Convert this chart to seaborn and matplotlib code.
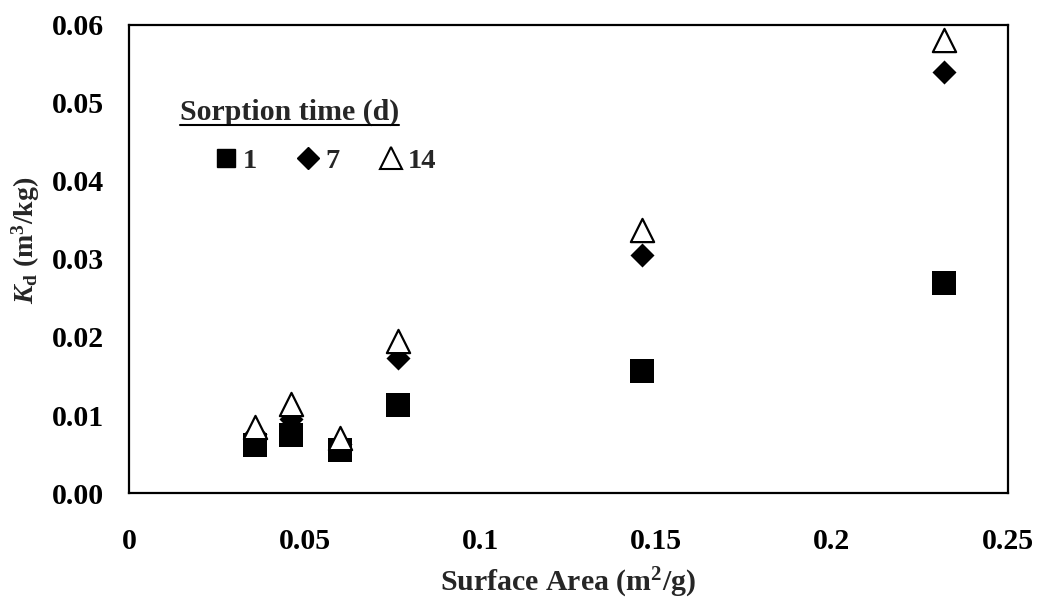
import matplotlib
matplotlib.use("Agg")
import matplotlib.pyplot as plt
import seaborn as sns
from matplotlib.lines import Line2D

# ---- data ----
surface_area = [0.0358, 0.0461, 0.0600, 0.0765, 0.1460, 0.2320]
kd_day1 = [0.0062, 0.0074, 0.0055, 0.0113, 0.0156, 0.0269]
kd_day7 = [0.0076, 0.0095, 0.0063, 0.0173, 0.0305, 0.0540]
kd_day14 = [0.0085, 0.0114, 0.0070, 0.0195, 0.0337, 0.0580]
legend_labels = ["1", "7", "14"]
x_ticks = [0, 0.05, 0.10, 0.15, 0.20, 0.25]
x_tick_labels = ["0", "0.05", "0.1", "0.15", "0.2", "0.25"]
y_ticks = [0.00, 0.01, 0.02, 0.03, 0.04, 0.05, 0.06]
y_tick_labels = ["0.00", "0.01", "0.02", "0.03", "0.04", "0.05", "0.06"]

sns.set_style("white")
plt.rcParams["font.family"] = ["Liberation Serif", "DejaVu Serif"]
plt.rcParams["font.weight"] = "bold"
plt.rcParams["mathtext.fontset"] = "custom"
plt.rcParams["mathtext.rm"] = "Liberation Serif:bold"
plt.rcParams["mathtext.bf"] = "Liberation Serif:bold"
plt.rcParams["mathtext.it"] = "Liberation Serif:italic:bold"
plt.rcParams["mathtext.bfit"] = "Liberation Serif:italic:bold"
plt.rcParams["mathtext.default"] = "bf"

FS = 21.5

fig = plt.figure(figsize=(10.4, 6.05), dpi=100)
ax = fig.add_axes([0.124, 0.185, 0.845, 0.774])

sns.scatterplot(x=surface_area, y=kd_day1, marker="s", s=300, color="black",
                edgecolor="black", linewidth=0, ax=ax, zorder=3)
sns.scatterplot(x=surface_area, y=kd_day7, marker="D", s=150, color="black",
                edgecolor="black", linewidth=0, ax=ax, zorder=4)
sns.scatterplot(x=surface_area, y=kd_day14, marker="^", s=280, color="white",
                edgecolor="black", linewidth=1.6, ax=ax, zorder=5)

ax.set_xlim(0, 0.25)
ax.set_ylim(0, 0.06)
ax.set_xticks(x_ticks)
ax.set_xticklabels(x_tick_labels, fontsize=FS, fontweight="bold")
ax.set_yticks(y_ticks)
ax.set_yticklabels(y_tick_labels, fontsize=FS, fontweight="bold")
ax.tick_params(axis="x", direction="in", length=4, width=1, pad=25, colors="black")
ax.tick_params(axis="y", direction="in", length=4, width=1, pad=18, colors="black")
for sp in ax.spines.values():
    sp.set_visible(True)
    sp.set_color("black")
    sp.set_linewidth(1.6)

ax.set_xlabel(r"Surface Area (m$^{2}$/g)", fontsize=FS, fontweight="bold", labelpad=8)
ax.set_ylabel(r"$\mathbfit{K}_{\mathbf{d}}$ (m$^{3}$/kg)", fontsize=20,
              fontweight="bold")
ax.yaxis.set_label_coords(-0.099, 0.54)

# legend
handles = [
    Line2D([], [], ls="none", marker="s", markersize=13, color="black", mec="black"),
    Line2D([], [], ls="none", marker="D", markersize=11.5, color="black", mec="black"),
    Line2D([], [], ls="none", marker="^", markersize=16, mfc="white", mec="black", mew=1.5),
]
title = ax.text(0.058, 0.797, "Sorption time (d)", transform=ax.transAxes,
                fontsize=FS, fontweight="bold", ha="left", va="baseline")
ax.legend(handles, legend_labels, ncol=3, frameon=False, loc="center left",
          bbox_to_anchor=(0.0956, 0.71), borderpad=0, borderaxespad=0,
          handlelength=0.9, handletextpad=0.15, columnspacing=1.35,
          prop={"family": "Liberation Serif", "weight": "bold", "size": 20.5})

# underline the legend title
fig.canvas.draw()
bb = title.get_window_extent(renderer=fig.canvas.get_renderer())
inv = fig.transFigure.inverted()
(x0, y0), (x1, _) = inv.transform([(bb.x0, bb.y0 + 1), (bb.x1, bb.y0)])
fig.add_artist(Line2D([x0, x1], [y0, y0], transform=fig.transFigure,
                      color="black", linewidth=1.5))

fig.savefig("out.png", dpi=100, facecolor="white")
